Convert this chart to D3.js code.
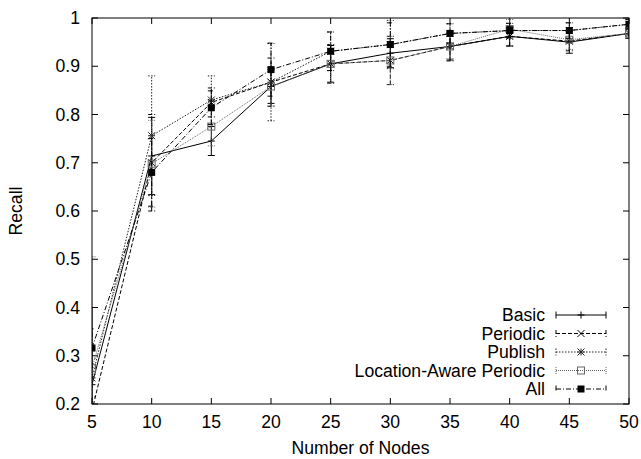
<!DOCTYPE html>
<html>
<head>
<meta charset="utf-8">
<script src="https://cdn.jsdelivr.net/npm/d3@7"></script>
<style>
  body { margin: 0; background: #fff; }
  text { font-family: "Liberation Sans", Arial, sans-serif; font-size: 17.6px; fill: #000; }
</style>
</head>
<body>
<div id="chart"></div>
<script>
// Data
const nodes = [5, 10, 15, 20, 25, 30, 35, 40, 45, 50];
const basic = [0.24, 0.714, 0.745, 0.858, 0.905, 0.927, 0.941, 0.962, 0.95, 0.968];
const basicErr = [0.16, 0.08, 0.03, 0.035, 0.038, 0.03, 0.028, 0.02, 0.023, 0.01];
const periodic = [0.186, 0.70, 0.825, 0.867, 0.905, 0.912, 0.941, 0.962, 0.952, 0.968];
const periodicErr = [0.03, 0.1, 0.03, 0.05, 0.04, 0.05, 0.03, 0.02, 0.02, 0.01];
const publish = [0.254, 0.756, 0.83, 0.867, 0.931, 0.945, 0.968, 0.974, 0.974, 0.987];
const publishErr = [0.04, 0.124, 0.05, 0.08, 0.04, 0.05, 0.02, 0.015, 0.016, 0.01];
const lap = [0.275, 0.698, 0.775, 0.858, 0.905, 0.912, 0.941, 0.977, 0.955, 0.968];
const lapErr = [0.23, 0.09, 0.04, 0.04, 0.04, 0.05, 0.025, 0.02, 0.02, 0.01];
const all = [0.316, 0.68, 0.814, 0.893, 0.931, 0.945, 0.968, 0.974, 0.974, 0.987];
const allErr = [0.04, 0.07, 0.035, 0.055, 0.04, 0.045, 0.02, 0.015, 0.016, 0.01];

const seriesNames = ["Basic", "Periodic", "Publish", "Location-Aware Periodic", "All"];
const yTicks = [0.2, 0.3, 0.4, 0.5, 0.6, 0.7, 0.8, 0.9, 1];

// Styles per series (gnuplot-like line types)
const styles = [
    { dash: null, stroke: "#000", marker: "plus" },
    { dash: "4,2", stroke: "#000", marker: "cross" },
    { dash: "1.5,1.5", stroke: "#222", marker: "star" },
    { dash: "1,1", stroke: "#666", marker: "square" },
    { dash: "5,2,1,2", stroke: "#000", marker: "filled" }
];

const series = [
    { name: seriesNames[0], values: basic, err: basicErr },
    { name: seriesNames[1], values: periodic, err: periodicErr },
    { name: seriesNames[2], values: publish, err: publishErr },
    { name: seriesNames[3], values: lap, err: lapErr },
    { name: seriesNames[4], values: all, err: allErr }
];

const W = 641, H = 459;
const margin = { top: 18, right: 12, bottom: 55, left: 92 };
const width = W - margin.left - margin.right;
const height = H - margin.top - margin.bottom;

const svg = d3.select("#chart")
    .append("svg")
    .attr("width", W)
    .attr("height", H)
    .append("g")
    .attr("transform", `translate(${margin.left},${margin.top})`);

const x = d3.scaleLinear().domain([5, 50]).range([0, width]);
const y = d3.scaleLinear().domain([0.2, 1]).range([height, 0]);

svg.append("clipPath").attr("id", "clip")
    .append("rect").attr("width", width).attr("height", height);

// ticks on all four sides, pointing inward
const tickLen = 6;
const ticks = svg.append("g").attr("stroke", "#000").attr("stroke-width", 1);
nodes.forEach(n => {
    ticks.append("line").attr("x1", x(n)).attr("x2", x(n)).attr("y1", height).attr("y2", height - tickLen);
    ticks.append("line").attr("x1", x(n)).attr("x2", x(n)).attr("y1", 0).attr("y2", tickLen);
});
yTicks.forEach(t => {
    ticks.append("line").attr("x1", 0).attr("x2", tickLen).attr("y1", y(t)).attr("y2", y(t));
    ticks.append("line").attr("x1", width).attr("x2", width - tickLen).attr("y1", y(t)).attr("y2", y(t));
});

// tick labels
svg.append("g").selectAll("text")
    .data(nodes)
    .join("text")
    .attr("x", d => x(d))
    .attr("y", height + 18)
    .attr("dy", "0.35em")
    .attr("text-anchor", "middle")
    .text(d => d);

svg.append("g").selectAll("text")
    .data(yTicks)
    .join("text")
    .attr("x", -12)
    .attr("y", d => y(d))
    .attr("dy", "0.35em")
    .attr("text-anchor", "end")
    .text(d => d === 1 ? "1" : d3.format(".1f")(d));

// axis titles
svg.append("text")
    .attr("x", width / 2)
    .attr("y", height + 44)
    .attr("dy", "0.35em")
    .attr("text-anchor", "middle")
    .text("Number of Nodes");

svg.append("text")
    .attr("transform", `translate(${16 - margin.left},${height / 2}) rotate(-90)`)
    .attr("dy", "0.35em")
    .attr("text-anchor", "middle")
    .text("Recall");

// marker drawing
function drawMarker(g, type, cx, cy, color) {
    const s = 3.5;
    if (type === "plus") {
        g.append("path").attr("d", `M${cx - s},${cy}H${cx + s}M${cx},${cy - s}V${cy + s}`)
            .attr("stroke", color).attr("fill", "none");
    } else if (type === "cross") {
        g.append("path").attr("d", `M${cx - s},${cy - s}L${cx + s},${cy + s}M${cx - s},${cy + s}L${cx + s},${cy - s}`)
            .attr("stroke", color).attr("fill", "none");
    } else if (type === "star") {
        g.append("path").attr("d", `M${cx - s},${cy}H${cx + s}M${cx},${cy - s}V${cy + s}M${cx - s},${cy - s}L${cx + s},${cy + s}M${cx - s},${cy + s}L${cx + s},${cy - s}`)
            .attr("stroke", color).attr("fill", "none");
    } else if (type === "square") {
        g.append("rect").attr("x", cx - s).attr("y", cy - s).attr("width", 2 * s).attr("height", 2 * s)
            .attr("stroke", color).attr("fill", "none");
    } else if (type === "filled") {
        g.append("rect").attr("x", cx - s).attr("y", cy - s).attr("width", 2 * s).attr("height", 2 * s)
            .attr("fill", color);
    }
}

const plot = svg.append("g").attr("clip-path", "url(#clip)");
const line = d3.line().x((d, i) => x(nodes[i])).y(d => y(d));
const cap = 3.5;

series.forEach((s, k) => {
    const st = styles[k];
    const g = plot.append("g");
    // error bars
    s.values.forEach((v, i) => {
        const px = x(nodes[i]);
        const lo = y(v - s.err[i]), hi = y(v + s.err[i]);
        g.append("path")
            .attr("d", `M${px},${lo}V${hi}M${px - cap},${lo}H${px + cap}M${px - cap},${hi}H${px + cap}`)
            .attr("fill", "none")
            .attr("stroke", st.stroke)
            .attr("stroke-dasharray", st.dash);
    });
    // line
    g.append("path")
        .datum(s.values)
        .attr("d", line)
        .attr("fill", "none")
        .attr("stroke", st.stroke)
        .attr("stroke-dasharray", st.dash);
    // markers (only inside range)
    s.values.forEach((v, i) => {
        if (v >= 0.2 && v <= 1) drawMarker(g, st.marker, x(nodes[i]), y(v), st.stroke);
    });
});

// legend
const legend = svg.append("g");
const legTextX = 545 - margin.left, legX1 = 556 - margin.left, legX2 = 606 - margin.left;
series.forEach((s, k) => {
    const st = styles[k];
    const ly = 315 - margin.top + k * 18.5;
    legend.append("text")
        .attr("x", legTextX)
        .attr("y", ly)
        .attr("dy", "0.35em")
        .attr("text-anchor", "end")
        .text(s.name);
    legend.append("path")
        .attr("d", `M${legX1},${ly}H${legX2}M${legX1},${ly - cap}V${ly + cap}M${legX2},${ly - cap}V${ly + cap}`)
        .attr("fill", "none")
        .attr("stroke", st.stroke)
        .attr("stroke-dasharray", st.dash);
    drawMarker(legend, st.marker, (legX1 + legX2) / 2, ly, st.stroke);
});

// frame
svg.append("rect")
    .attr("width", width)
    .attr("height", height)
    .attr("fill", "none")
    .attr("stroke", "#000")
    .attr("stroke-width", 1);
</script>
</body>
</html>
